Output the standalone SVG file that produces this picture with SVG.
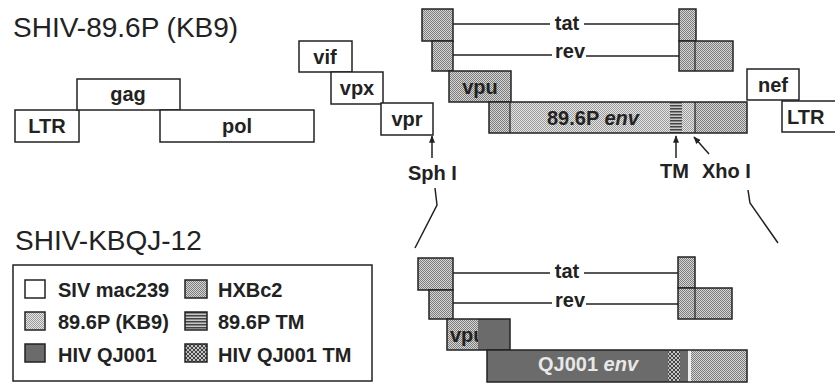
<svg xmlns="http://www.w3.org/2000/svg" width="835" height="385" viewBox="0 0 835 385">
<defs>
<pattern id="pKB9" width="2" height="2" patternUnits="userSpaceOnUse"><rect width="2" height="2" fill="#e6e6e6"/><rect width="1" height="1" fill="#9a9a9a"/><rect x="1" y="1" width="1" height="1" fill="#9a9a9a"/></pattern>
<pattern id="pHX" width="2" height="2" patternUnits="userSpaceOnUse"><rect width="2" height="2" fill="#d6d6d6"/><rect width="1" height="1" fill="#7c7c7c"/><rect x="1" y="1" width="1" height="1" fill="#7c7c7c"/></pattern>
<pattern id="pTM" width="4" height="3" patternUnits="userSpaceOnUse"><rect width="4" height="3" fill="#c8c8c8"/><rect width="4" height="1.5" fill="#444"/></pattern>
<pattern id="pQJTM" width="4" height="4" patternUnits="userSpaceOnUse"><rect width="4" height="4" fill="#c4c4c4"/><path d="M0,0 L4,4 M4,0 L0,4" stroke="#444" stroke-width="1"/></pattern>
<marker id="arr" viewBox="0 0 10 10" refX="9" refY="5" markerWidth="5" markerHeight="5" orient="auto"><path d="M0,1 L10,5 L0,9 z" fill="#222"/></marker>
</defs>
<style>
.box{stroke:#222;stroke-width:1.5}
.nos{stroke:none}
.w{fill:#fff}
.kb9{fill:url(#pKB9)}
.hx{fill:url(#pHX)}
.qj{fill:#6b6b6b}
.tm{fill:url(#pTM)}
.qjtm{fill:url(#pQJTM)}
.lbl{font-family:"Liberation Sans",Arial,sans-serif;font-size:20px;font-weight:bold;fill:#222}
.mid{text-anchor:middle}
.title{font-family:"Liberation Sans",Arial,sans-serif;font-size:28px;fill:#222}
.ln{stroke:#222;stroke-width:1.5;fill:none}
.sep{stroke:#222;stroke-width:1.2}
</style>
<rect width="835" height="385" fill="#fff"/>

<text class="title" x="13" y="37">SHIV-89.6P (KB9)</text>
<text class="title" x="15" y="250">SHIV-KBQJ-12</text>

<!-- Top construct -->
<g id="ltr5"><rect class="box w" x="15" y="110" width="64" height="32"/><text class="lbl mid" x="47" y="133">LTR</text></g>
<g id="gag"><rect class="box w" x="77" y="79" width="103" height="31"/><text class="lbl mid" x="128" y="101">gag</text></g>
<g id="pol"><rect class="box w" x="160" y="110" width="154" height="32"/><text class="lbl mid" x="237" y="133">pol</text></g>
<g id="vif"><rect class="box w" x="299" y="41" width="53" height="31"/><text class="lbl mid" x="325" y="64">vif</text></g>
<g id="vpx"><rect class="box w" x="331" y="72" width="52" height="32"/><text class="lbl mid" x="357" y="95">vpx</text></g>
<g id="vpr"><rect class="box w" x="381" y="103" width="52" height="32"/><text class="lbl mid" x="407" y="126">vpr</text></g>

<g id="tat1"><rect class="box hx" x="422" y="9" width="31" height="32"/></g>
<g id="rev1"><rect class="box hx" x="432" y="41" width="21" height="30"/></g>
<g id="vpu"><rect class="box hx" x="449" y="71" width="62" height="31"/><text class="lbl mid" x="480" y="94">vpu</text></g>
<g id="env"><rect class="nos hx" x="489" y="102" width="258" height="31"/><rect class="nos kb9" x="510" y="102" width="185" height="31"/><rect class="nos tm" x="670" y="102" width="12" height="31"/><line class="sep" x1="510" y1="102" x2="510" y2="133"/><line class="sep" x1="695" y1="102" x2="695" y2="133"/><rect class="box" fill="none" x="489" y="102" width="258" height="31"/><text class="lbl" x="547" y="125">89.6P <tspan font-style="italic">env</tspan></text></g>
<g id="tat2"><rect class="box hx" x="679" y="9" width="17" height="32"/></g>
<g id="rev2"><rect class="box hx" x="679" y="41" width="54" height="30"/><line class="sep" x1="695" y1="41" x2="695" y2="71"/></g>
<g id="nef"><rect class="box w" x="747" y="69" width="52" height="31"/><text class="lbl mid" x="773" y="92">nef</text></g>
<g id="ltr3"><rect class="box w" x="782" y="101" width="60" height="31"/><text class="lbl" x="787" y="124">LTR</text></g>

<text class="lbl mid" x="567" y="30">tat</text>
<text class="lbl mid" x="570" y="58">rev</text>
<text class="lbl" x="408" y="180">Sph I</text>
<text class="lbl" x="660" y="178">TM</text>
<text class="lbl" x="702" y="178">Xho I</text>

<!-- Bottom construct -->
<g id="tat1b"><rect class="box hx" x="418" y="258" width="35" height="32"/></g>
<g id="rev1b"><rect class="box hx" x="429" y="290" width="24" height="29"/></g>
<g id="vpub"><rect class="nos hx" x="447" y="319" width="63" height="31"/><text class="lbl" x="450" y="342">vpu</text><rect class="nos qj" x="478" y="319" width="32" height="31"/><rect class="box" fill="none" x="447" y="319" width="63" height="31"/></g>
<g id="envb"><rect class="nos qj" x="487" y="350" width="260" height="32"/><rect class="nos qjtm" x="668" y="350" width="12" height="32"/><rect class="nos" fill="#eee" x="688" y="350" width="3" height="32"/><rect class="nos hx" x="691" y="350" width="56" height="32"/><rect class="box" fill="none" x="487" y="350" width="260" height="32"/><text class="lbl" x="538" y="371" style="fill:#e8e8e8">QJ001 <tspan font-style="italic">env</tspan></text></g>
<g id="tat2b"><rect class="box hx" x="678" y="257" width="17" height="31"/></g>
<g id="rev2b"><rect class="box hx" x="678" y="288" width="54" height="31"/><line class="sep" x1="695" y1="288" x2="695" y2="319"/></g>
<text class="lbl mid" x="567" y="278">tat</text>
<text class="lbl mid" x="570" y="307">rev</text>

<!-- Connectors -->
<g id="connectors">
<path class="ln" d="M453,24 H550 M584,24 H679"/>
<path class="ln" d="M453,55 H552 M586,56 H679"/>
<path class="ln" d="M453,273 H550 M584,273 H678"/>
<path class="ln" d="M453,303 H552 M586,304 H678"/>
<path class="ln" d="M432,158 V136" marker-end="url(#arr)"/>
<path class="ln" d="M676,158 V136" marker-end="url(#arr)"/>
<path class="ln" d="M709,154 L694,137" marker-end="url(#arr)"/>
<path class="ln" d="M435,188 L437,205 L415,248"/>
<path class="ln" d="M748,190 L750,203 L778,243"/>
</g>

<!-- Legend -->
<g id="legend">
<rect class="box" fill="#fff" x="13" y="265" width="359" height="116"/>
<rect class="box w" x="25" y="280" width="20" height="18"/><text class="lbl" x="58" y="297">SIV mac239</text>
<rect class="box hx" x="185" y="280" width="22" height="18"/><text class="lbl" x="218" y="297">HXBc2</text>
<rect class="box kb9" x="25" y="312" width="20" height="18"/><text class="lbl" x="58" y="329">89.6P (KB9)</text>
<rect class="box tm" x="185" y="312" width="22" height="18"/><text class="lbl" x="218" y="329">89.6P TM</text>
<rect class="box qj" x="25" y="344" width="20" height="18"/><text class="lbl" x="58" y="362">HIV QJ001</text>
<rect class="box qjtm" x="185" y="344" width="22" height="18"/><text class="lbl" x="218" y="362">HIV QJ001 TM</text>
</g>
</svg>
